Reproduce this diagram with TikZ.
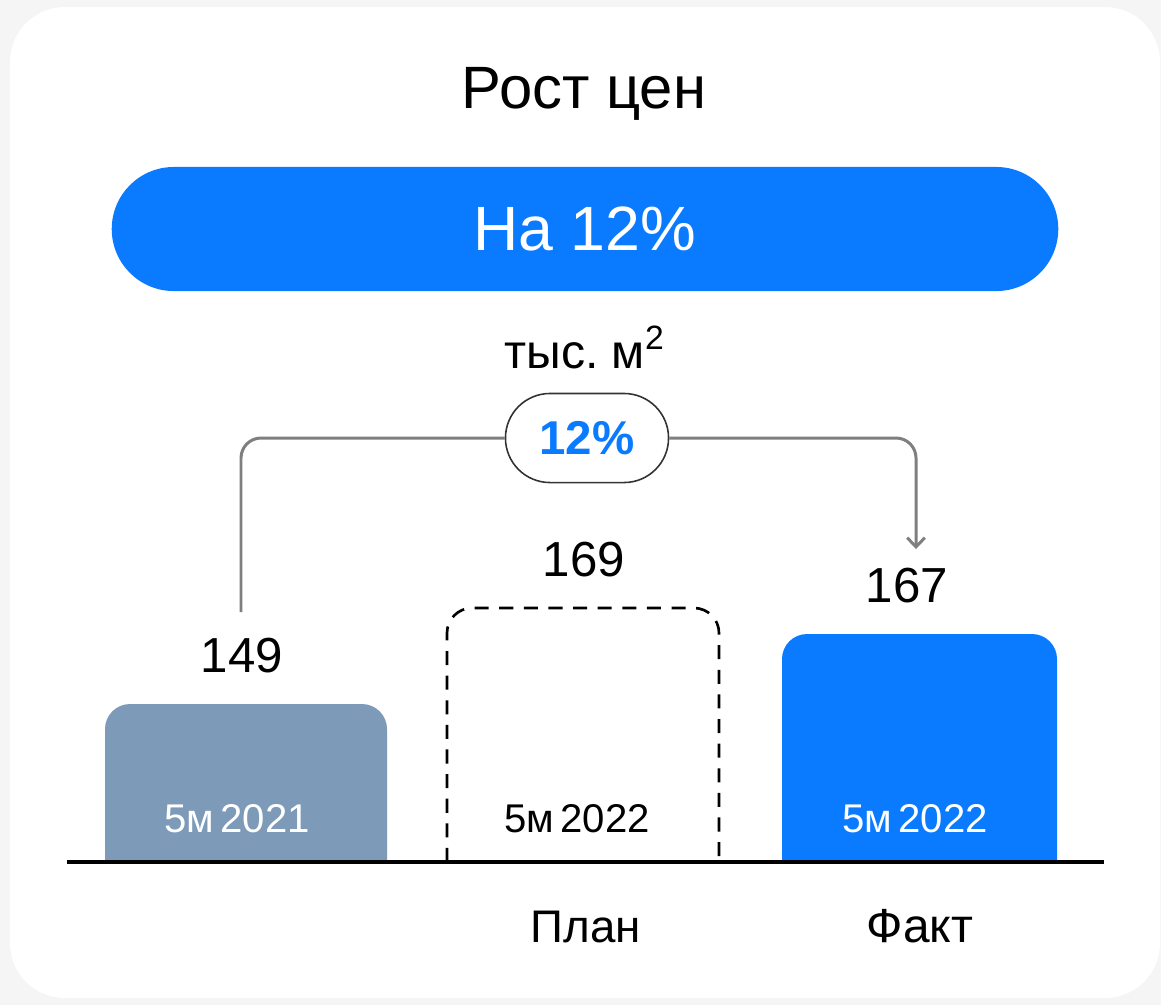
\documentclass[tikz,border=0pt]{standalone}
\usepackage{fontspec}
\setmainfont{Liberation Sans}
\usetikzlibrary{arrows.meta}
\definecolor{pagebg}{HTML}{F5F5F5}
\definecolor{vkblue}{HTML}{0A7BFF}
\definecolor{steel}{HTML}{7D9AB9}
\definecolor{linegray}{HTML}{7F7F7F}
\newcommand{\fs}[1]{\fontsize{#1}{#1}\selectfont}
\newcommand{\barlbl}[3]{node[anchor=base,font=\fs{11.4},text=#3] (#1) {#2}}
\frenchspacing

\begin{document}
\begin{tikzpicture}[x=0.01cm,y=-0.01cm,
       txt/.style={anchor=base,font=\fs{#1}},
       conn/.style={linegray,line width=0.85pt,rounded corners=0.2cm}]
       \useasboundingbox (0,0) rectangle (1161,1005);
       \fill[pagebg] (0,0) rectangle (1161,1005);
       \fill[white,rounded corners=0.55cm] (10,7) rectangle (1160,998);
       \node[txt=17] (title) at (584,108) {Рост цен};
       \node[fill=vkblue,text=white,minimum width=9.46cm,minimum height=1.24cm,
             rounded corners=0.62cm,font=\fs{17.8}] (total) at (585,229) {На 12\%};
       \node[txt=13.7] (unit) at (585,368) {тыс. м\textsuperscript{2}};
       \node[draw=black!80,line width=0.45pt,fill=white,minimum width=1.63cm,minimum height=0.89cm,
             rounded corners=0.445cm,text=vkblue,font=\bfseries\fs{13.5}] (delta) at (587,438) {12\%};
       % bars
       \fill[steel,rounded corners=0.25cm] (105,862) -- (105,704) -- (387,704) -- (387,862);
       \draw[line width=0.75pt,dash pattern=on 4pt off 3pt,rounded corners=0.25cm] (447,862) -- (447,608) -- (719,608) -- (719,862);
       \fill[vkblue,rounded corners=0.25cm] (782,862) -- (782,634) -- (1057,634) -- (1057,862);
       \draw[line width=0.9pt] (67,862) -- (1104,862);
       \path (237,832) \barlbl{b1}{5м\,2021}{white}
             (577,832) \barlbl{b2}{5м\,2022}{black}
             (915,832) \barlbl{b3}{5м\,2022}{white};
       \node[txt=14] (v149) at (242,672) {149};
       \node[txt=14] (v169) at (584,576) {169};
       \node[txt=14] (v167) at (907,602) {167};
       \node[txt=13] (plan) at (586,942) {План};
       \node[txt=13.6] (fact) at (920,942) {Факт};
       \coordinate (from) at (241,612);
       \coordinate (to) at (916,549);
       \draw[conn] (from) |- (delta.west);
       \draw[conn,-{Straight Barb[length=2.6pt,width=5pt]}] (delta.east) -| (to);
\end{tikzpicture}
\end{document}
